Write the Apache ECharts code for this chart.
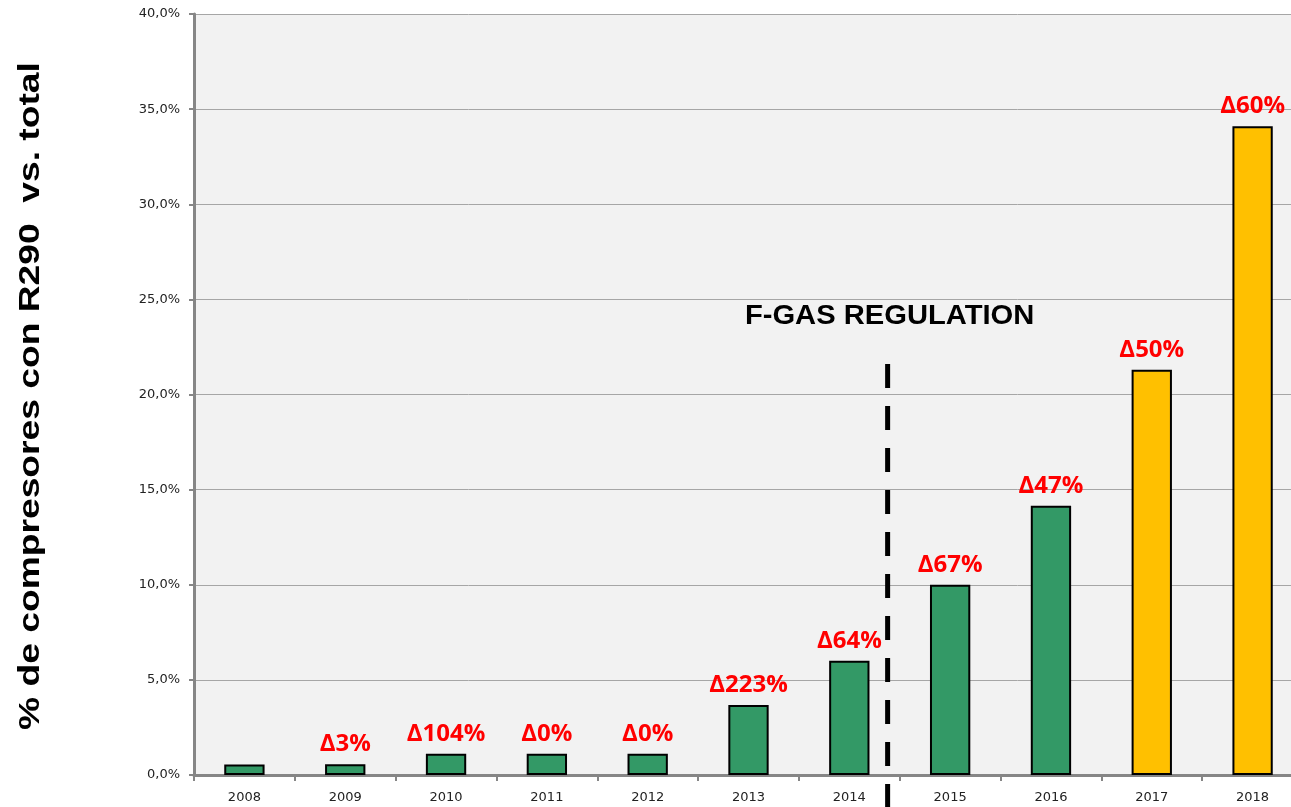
<!DOCTYPE html>
<html>
<head>
<meta charset="utf-8">
<title>R290</title>
<script src="https://cdn.jsdelivr.net/npm/echarts@6/dist/echarts.min.js"></script>
<style>
  html, body { margin: 0; padding: 0; background: #fff; }
  #chart { width: 1291px; height: 807px; }
</style>
</head>
<body>
<div id="chart"></div>
<script>
// data
const years = ['2008', '2009', '2010', '2011', '2012', '2013', '2014', '2015', '2016', '2017', '2018']
const shareR290 = [0.55, 0.56, 1.12, 1.12, 1.12, 3.68, 6.0, 10.0, 14.15, 21.3, 34.1]
const deltaLabels = ['', 'Δ3%', 'Δ104%', 'Δ0%', 'Δ0%', 'Δ223%', 'Δ64%', 'Δ67%', 'Δ47%', 'Δ50%', 'Δ60%']
const highlightYears = ['2017', '2018']
const yTicks = { min: 0, max: 40, interval: 5 }
const yTitle = '% de compresores con R290  vs. total'

const chart = echarts.init(document.getElementById('chart'))

const fmtPct = v => v.toFixed(1).replace('.', ',') + '%'

chart.setOption({
  animation: false,
  grid: {
    left: 194,
    top: 14,
    right: -12,
    bottom: 32,
    outerBoundsMode: 'none',
    show: true,
    backgroundColor: '#f2f2f2',
    borderWidth: 0
  },
  xAxis: {
    type: 'category',
    data: years,
    axisLine: { lineStyle: { color: '#868686', width: 3 } },
    axisTick: { show: true, length: 6, lineStyle: { color: '#868686', width: 2 } },
    axisLabel: {
      margin: 16,
      fontFamily: 'DejaVu Sans',
      fontSize: 13,
      color: '#222'
    }
  },
  yAxis: {
    type: 'value',
    min: yTicks.min,
    max: yTicks.max,
    interval: yTicks.interval,
    axisLine: { show: true, lineStyle: { color: '#868686', width: 3 } },
    axisTick: { show: true, length: 5, lineStyle: { color: '#868686', width: 2 } },
    splitLine: { lineStyle: { color: '#a6a6a6', width: 1 } },
    axisLabel: {
      margin: 14,
      fontFamily: 'DejaVu Sans',
      fontSize: 13,
      color: '#222',
      formatter: fmtPct
    }
  },
  series: [
    {
      type: 'bar',
      data: shareR290,
      barWidth: '40%',
      itemStyle: {
        color: p => highlightYears.includes(p.name) ? '#ffc000' : '#339966',
        borderColor: '#000',
        borderWidth: 2
      },
      label: {
        show: true,
        position: 'top',
        distance: 8,
        formatter: p => deltaLabels[p.dataIndex],
        fontFamily: 'Open Sans',
        fontWeight: 'bold',
        fontSize: 24,
        color: '#ff0000'
      }
    }
  ]
})

// F-gas regulation marker, placed between 2014 and 2015
const x2014 = chart.convertToPixel({ xAxisIndex: 0 }, '2014')
const x2015 = chart.convertToPixel({ xAxisIndex: 0 }, '2015')
const lineX = x2014 + (x2015 - x2014) * 0.38
const lineTop = chart.convertToPixel({ yAxisIndex: 0 }, 21.6)
const textY = chart.convertToPixel({ yAxisIndex: 0 }, 24.1)

chart.setOption({
  graphic: [
    {
      type: 'line',
      shape: { x1: lineX, y1: lineTop, x2: lineX, y2: chart.getHeight() },
      style: { stroke: '#000', lineWidth: 5, lineDash: [24, 18] },
      z: 100
    },
    {
      type: 'text',
      x: lineX + 2,
      y: textY,
      scaleX: 1.08,
      style: {
        text: 'F-GAS REGULATION',
        fontFamily: 'Liberation Sans',
        fontWeight: 'bold',
        fontSize: 27,
        fill: '#000',
        align: 'center',
        verticalAlign: 'middle'
      },
      z: 100
    },
    {
      // the axis title in the source is stretched along its length
      type: 'text',
      x: 31,
      y: 396,
      rotation: Math.PI / 2,
      scaleX: 1.24,
      style: {
        text: yTitle,
        fontFamily: 'Liberation Sans',
        fontWeight: 'bold',
        fontSize: 30,
        fill: '#000',
        align: 'center',
        verticalAlign: 'middle'
      }
    }
  ]
})
</script>
</body>
</html>
